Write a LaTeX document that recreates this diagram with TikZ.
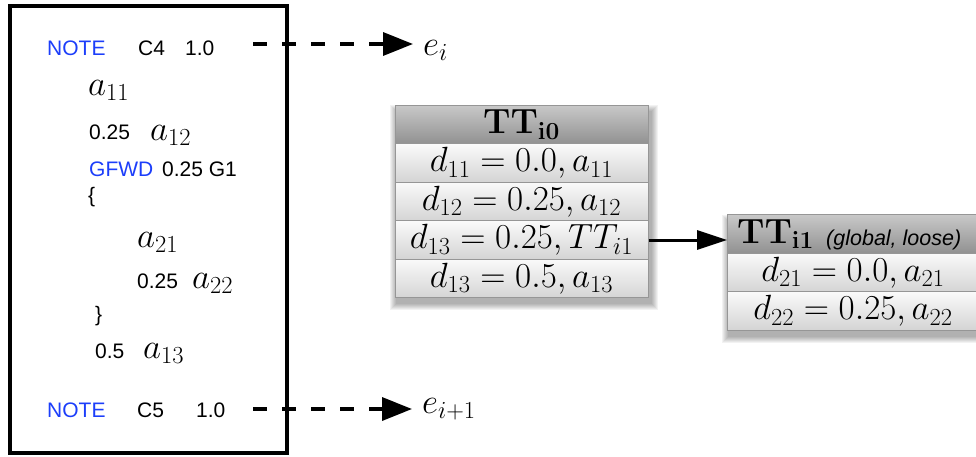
\documentclass[tikz,border=0pt]{standalone}
\usepackage{fix-cm}
\usepackage[no-math]{fontspec}
\setsansfont{Liberation Sans}
\usetikzlibrary{arrows.meta}
\definecolor{noteblue}{RGB}{28,62,250}
\definecolor{bordergray}{RGB}{150,150,150}
\definecolor{hdrtop}{RGB}{200,200,200}
\definecolor{hdrbot}{RGB}{145,145,145}
\definecolor{rowtop}{RGB}{250,250,250}
\definecolor{rowbot}{RGB}{212,212,212}
\begin{document}
\begin{tikzpicture}[x=1pt,y=-1pt,
  txt/.style={font=\sffamily\fontsize{21}{25}\selectfont, inner sep=0pt, anchor=base west},
  kw/.style={txt, text=noteblue},
  mth/.style={font=\fontsize{35}{42}\selectfont, inner sep=0pt, anchor=base west},
  cellbox/.style={draw=bordergray, line width=1pt, inner sep=0pt, minimum height=38.5pt,
    font=\fontsize{35}{42}\selectfont},
  hdrbox/.style={cellbox, top color=hdrtop, bottom color=hdrbot},
  rowbox/.style={cellbox, top color=rowtop, bottom color=rowbot},
  dasharrow/.style={line width=3.5pt, dash pattern=on 14pt off 15pt,
    -{Triangle[length=30pt,width=23pt]}},
  solidarrow/.style={line width=3pt, -{Triangle[length=30pt,width=19pt]}},
  softshadow/.style={black, opacity=0.05}
]
\useasboundingbox (0,0) rectangle (976,456);

% ---------- left source box ----------
\node[draw, line width=4pt, minimum width=277pt, minimum height=447pt, inner sep=0pt] (src) at (148.5,229.5) {};

\node[kw]  (n1)  at (47,55)  {NOTE};
\node[txt] (c4)  at (138,55) {C4};
\node[txt] (v1)  at (185,55) {1.0};
\node[mth] (a11) at (88,95)  {$a_{11}$};
\node[txt] (w12) at (89,139) {0.25};
\node[mth] (a12) at (150,140) {$a_{12}$};
\node[kw]  (gf)  at (89,176) {GFWD};
\node[txt] (gfv) at (162,176) {0.25 G1};
\node[txt] (lb)  at (88,202) {\{};
\node[mth] (a21) at (137,247) {$a_{21}$};
\node[txt] (w22) at (137,288) {0.25};
\node[mth] (a22) at (192,288) {$a_{22}$};
\node[txt] (rb)  at (95,321) {\}};
\node[txt] (w13) at (95,358) {0.5};
\node[mth] (a13) at (143,358) {$a_{13}$};
\node[kw]  (n2)  at (47,417) {NOTE};
\node[txt] (c5)  at (137,417) {C5};
\node[txt] (v2)  at (196,417) {1.0};

% ---------- events ----------
\node[mth] (ei)  at (423,55)  {$e_i$};
\node[mth] (ei1) at (422,413) {$e_{i+1}$};
\coordinate (s1) at (253,44);
\coordinate (s2) at (253,409);
\draw[dasharrow, shorten >=10pt] (s1) -- (s1 -| ei.west);
\draw[dasharrow, shorten >=10pt] (s2) -- (s2 -| ei1.west);

% ---------- TT_i0 ----------
\foreach \k in {1,...,7}{
  \fill[softshadow] (397-\k,112-\k) rectangle (651+\k,303+\k);
}
\node[hdrbox, minimum width=253pt] (h0) at (521.5,124.5) {$\mathbf{TT}_{\mathbf{i0}}$};
\node[rowbox, minimum width=253pt] (r1) at (521.5,163)   {$d_{11} = 0.0, a_{11}$};
\node[rowbox, minimum width=253pt] (r2) at (521.5,201.5) {$d_{12} = 0.25, a_{12}$};
\node[rowbox, minimum width=253pt] (r3) at (521.5,240)   {$d_{13} = 0.25, TT_{i1}$};
\node[rowbox, minimum width=253pt] (r4) at (521.5,278.5) {$d_{13} = 0.5, a_{13}$};

% ---------- TT_i1 ----------
\foreach \k in {1,...,7}{
  \fill[softshadow] (729-\k,222-\k) rectangle (990+\k,336+\k);
}
\node[hdrbox, minimum width=252pt, anchor=west] (h1) at (727,234) {};
\node[rowbox, minimum width=252pt] (q1) at (853,272.5) {$d_{21} = 0.0, a_{21}$};
\node[rowbox, minimum width=252pt] (q2) at (853,311)   {$d_{22} = 0.25, a_{22}$};
\node[mth] (h1t) at (737,243) {$\mathbf{TT}_{\mathbf{i1}}$};
\node[txt, font=\sffamily\itshape\fontsize{21.5}{25}\selectfont] (h1n) at (826,245) {(global, loose)};

\draw[solidarrow] (r3.east) -- (r3.east -| h1.west);
\end{tikzpicture}
\end{document}
